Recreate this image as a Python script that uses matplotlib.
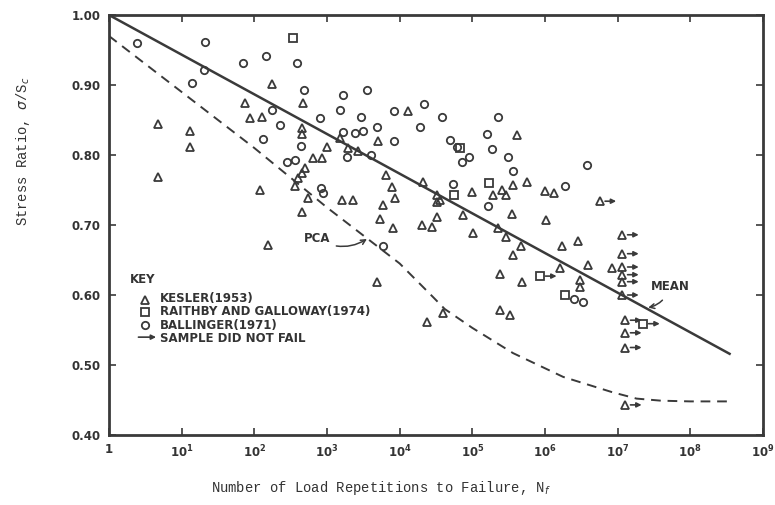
import numpy as np
import matplotlib.pyplot as plt
from matplotlib.transforms import offset_copy

# values: log10 of load repetitions, stress ratio
kesler_logn = [0.67, 1.11, 1.11, 0.67, 2.24, 1.87, 1.94, 2.10, 2.08, 2.19,
               2.67, 4.11, 2.65, 2.65, 3.18, 3.00, 3.70, 2.81, 2.93, 3.29,
               3.43, 2.70, 2.65, 2.60, 2.56, 3.81, 3.89, 3.93, 3.77, 4.32,
               4.51, 4.51, 2.74, 3.20, 3.36, 2.65, 3.73, 3.91, 4.31, 4.44,
               4.51, 3.69, 5.61, 5.56, 5.75, 4.99, 5.28, 5.41, 5.47, 6.00,
               6.13, 4.55, 4.87, 5.54, 6.01, 5.01, 5.35, 5.46, 5.67, 6.23,
               6.45, 5.56, 5.38, 5.68, 6.20, 6.59, 6.48, 6.48, 5.38, 5.52,
               4.59, 4.37, 6.92]
kesler_s = [0.844, 0.834, 0.811, 0.769, 0.901, 0.874, 0.853, 0.854, 0.750, 0.671,
            0.874, 0.863, 0.839, 0.830, 0.824, 0.811, 0.820, 0.796, 0.796, 0.810,
            0.806, 0.781, 0.774, 0.767, 0.756, 0.771, 0.754, 0.739, 0.729, 0.761,
            0.743, 0.733, 0.739, 0.736, 0.736, 0.719, 0.709, 0.696, 0.700, 0.697,
            0.711, 0.619, 0.829, 0.757, 0.761, 0.747, 0.743, 0.750, 0.743, 0.749,
            0.746, 0.736, 0.714, 0.716, 0.707, 0.688, 0.696, 0.683, 0.670, 0.670,
            0.677, 0.657, 0.630, 0.619, 0.639, 0.643, 0.621, 0.611, 0.579, 0.571,
            0.574, 0.561, 0.638]

# Kesler samples that did not fail
kesler_run_logn = [6.75, 7.06, 7.06, 7.06, 7.06, 7.06, 7.06, 7.10, 7.10, 7.10, 7.10]
kesler_run_s = [0.734, 0.686, 0.659, 0.640, 0.629, 0.619, 0.600, 0.564, 0.546, 0.525, 0.443]

raithby_logn = [2.53, 4.83, 5.23, 4.75, 6.27]
raithby_s = [0.967, 0.810, 0.760, 0.743, 0.600]
raithby_run_logn = [5.93, 7.35]
raithby_run_s = [0.627, 0.559]

ballinger_logn = [0.385, 1.32, 2.16, 1.84, 2.59, 1.31, 1.14, 2.68, 3.22, 3.55,
                  3.18, 2.90, 3.47, 3.92, 4.33, 4.58, 2.24, 2.35, 2.12, 2.45,
                  2.56, 2.64, 3.22, 3.38, 3.49, 3.69, 4.28, 3.92, 4.69, 4.79,
                  3.27, 3.60, 2.92, 2.94, 3.77, 5.35, 5.20, 5.27, 5.49, 4.86,
                  4.95, 5.56, 6.58, 6.27, 4.73, 5.21, 6.40, 6.52]
ballinger_s = [0.960, 0.961, 0.941, 0.931, 0.931, 0.921, 0.903, 0.893, 0.886, 0.893,
               0.864, 0.853, 0.854, 0.863, 0.873, 0.854, 0.864, 0.843, 0.823, 0.790,
               0.793, 0.813, 0.833, 0.831, 0.834, 0.840, 0.840, 0.820, 0.821, 0.811,
               0.797, 0.800, 0.753, 0.746, 0.670, 0.854, 0.830, 0.809, 0.797, 0.790,
               0.797, 0.777, 0.786, 0.756, 0.759, 0.727, 0.594, 0.590]

# mean fatigue line and PCA design curve
mean_logn = [0.0, 8.54]
mean_s = [1.00, 0.516]
pca_logn = [0.0, 1.0, 2.0, 3.0, 3.55, 4.0, 4.46, 4.62, 5.0, 5.56, 6.25, 6.93, 7.26, 7.6, 8.0, 8.51]
pca_s = [0.97, 0.89, 0.81, 0.725, 0.681, 0.645, 0.597, 0.580, 0.553, 0.517, 0.483, 0.461, 0.452, 0.449, 0.448, 0.448]

key_rows = ['KESLER(1953)', 'RAITHBY AND GALLOWAY(1974)', 'BALLINGER(1971)',
            'SAMPLE DID NOT FAIL']

ink = '#3a3a3a'
plt.rcParams['mathtext.fontset'] = 'dejavusans'

fig = plt.figure(figsize=(7.75, 5.05), dpi=100)
ax = fig.add_axes([109/775, 1 - 435/505, 654/775, 420/505])

def n(v):
    return 10 ** np.asarray(v)

ax.plot(n(mean_logn), mean_s, color=ink, lw=1.8)
ax.plot(n(pca_logn), pca_s, color=ink, lw=1.4, dashes=(5, 3.5))

mk = dict(ls='none', mfc='none', mec=ink, mew=1.3)
ax.plot(n(kesler_logn), kesler_s, marker='^', ms=5.8, **mk)
ax.plot(n(kesler_run_logn), kesler_run_s, marker='^', ms=5.8, **mk)
ax.plot(n(raithby_logn), raithby_s, marker='s', ms=6, **mk)
ax.plot(n(raithby_run_logn), raithby_run_s, marker='s', ms=6, **mk)
ax.plot(n(ballinger_logn), ballinger_s, marker='o', ms=5.3, **mk)

# arrows for samples that did not fail
tail = offset_copy(ax.transData, fig=fig, x=4, y=0, units='points')
head = offset_copy(ax.transData, fig=fig, x=12, y=0, units='points')
for xv, yv in zip(list(n(kesler_run_logn)) + list(n(raithby_run_logn)),
                  kesler_run_s + raithby_run_s):
    ax.annotate('', xy=(xv, yv), xycoords=head, xytext=(xv, yv), textcoords=tail,
                arrowprops=dict(arrowstyle='-|>', color=ink, lw=1.2, mutation_scale=7,
                                shrinkA=0, shrinkB=0))

ax.set_xscale('log')
ax.set_xlim(1, 1e9)
ax.set_ylim(0.40, 1.00)
ax.minorticks_off()
ax.set_xticks([10.0 ** k for k in range(10)])
ax.set_xticklabels(['1'] + [r'$\mathbf{10^{%d}}$' % k for k in range(1, 10)])
ax.set_yticks([0.40, 0.50, 0.60, 0.70, 0.80, 0.90, 1.00])
ax.set_yticklabels(['0.40', '0.50', '0.60', '0.70', '0.80', '0.90', '1.00'])
ax.tick_params(direction='in', top=True, right=True, length=5, width=1.2,
               color=ink, labelcolor='#333333', labelsize=8.5, pad=6)
for lab in ax.get_yticklabels() + ax.get_xticklabels():
    lab.set_fontweight('bold')
for sp in ax.spines.values():
    sp.set_linewidth(2.0)
    sp.set_color(ink)

fig.text(381/775, 1 - 488/505, r'Number of Load Repetitions to Failure, N$_f$',
         family='Liberation Mono', fontsize=10, color='#333333', ha='center', va='center')
fig.text(23/775, 1 - 151/505, r'Stress Ratio, $\sigma$/S$_c$',
         family='Liberation Mono', fontsize=10, color='#333333', rotation=90,
         ha='center', va='center')

# curve labels
ax.annotate('PCA', xy=(n(3.55), 0.680), xytext=(n(2.87), 0.680),
            fontsize=8.5, fontweight='bold', color='#333333', ha='center', va='center',
            arrowprops=dict(arrowstyle='->', color=ink, lw=1.1, shrinkA=2, shrinkB=0,
                            connectionstyle='arc3,rad=0.3'))
ax.annotate('MEAN', xy=(n(7.42), 0.582), xytext=(n(7.72), 0.612),
            fontsize=8.5, fontweight='bold', color='#333333', ha='center', va='center',
            arrowprops=dict(arrowstyle='->', color=ink, lw=1.1, shrinkA=4, shrinkB=0,
                            connectionstyle='arc3,rad=-0.3'))

# key
ax.text(0.032, 0.371, 'KEY', fontsize=8.5, fontweight='bold', color='#333333',
        va='center', transform=ax.transAxes)
ax.text(0.078, 0.277, '\n'.join(key_rows), fontsize=8.5, fontweight='bold',
        color='#333333', va='center', ha='left', linespacing=1.04,
        transform=ax.transAxes)
row_y = [0.321, 0.292, 0.263, 0.233]
ax.plot(0.055, row_y[0], marker='^', ms=5.8, transform=ax.transAxes, clip_on=False, **mk)
ax.plot(0.055, row_y[1], marker='s', ms=5.8, transform=ax.transAxes, clip_on=False, **mk)
ax.plot(0.055, row_y[2], marker='o', ms=5.3, transform=ax.transAxes, clip_on=False, **mk)
ax.annotate('', xy=(0.072, row_y[3]), xycoords='axes fraction',
            xytext=(0.045, row_y[3]), textcoords='axes fraction',
            arrowprops=dict(arrowstyle='-|>', color=ink, lw=1.2, mutation_scale=7,
                            shrinkA=0, shrinkB=0))

fig.savefig('out.png', dpi=100, facecolor='white')
